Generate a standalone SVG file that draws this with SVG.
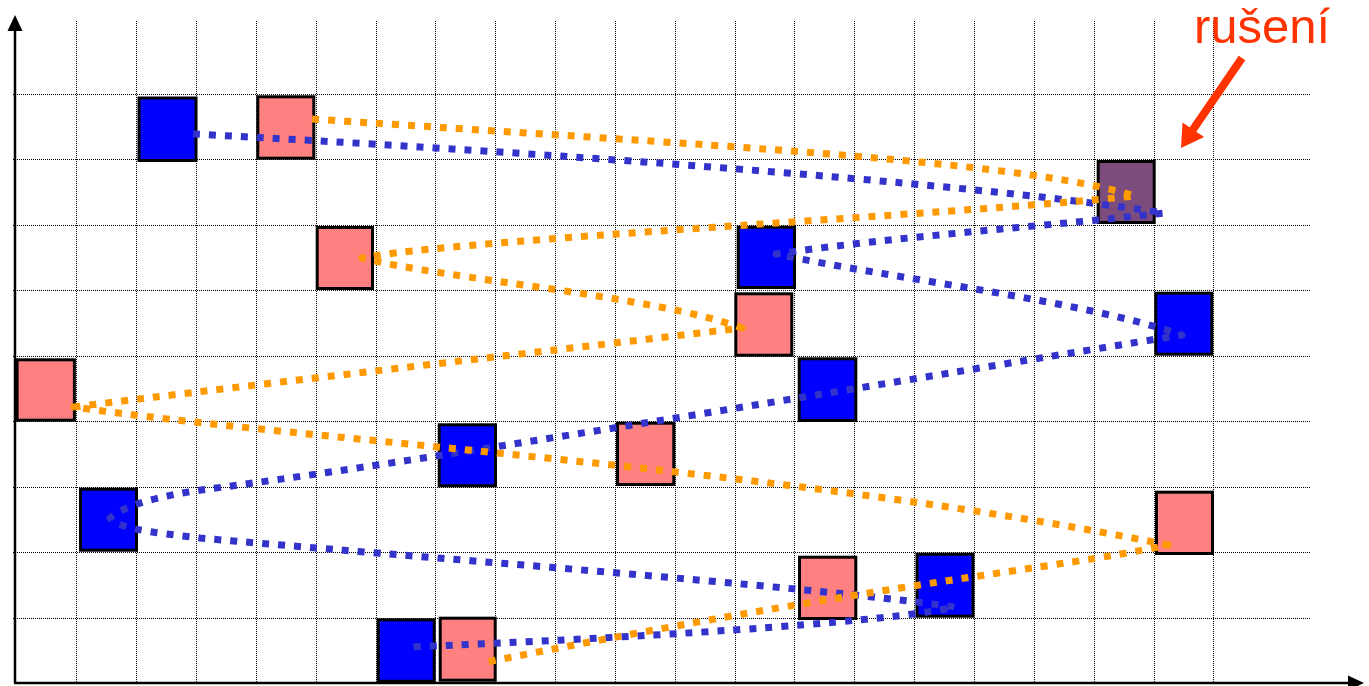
<svg xmlns="http://www.w3.org/2000/svg" width="1369" height="686" viewBox="0 0 1369 686">
<style>
.grid{stroke:#000;stroke-width:1;stroke-dasharray:1 1;fill:none}
.box{stroke:#000;stroke-width:3}
.blue{fill:#0000FF}
.pink{fill:#FF8080}
.purple{fill:#7C4C7C}
.conn{fill:none;stroke-width:7;stroke-dasharray:7 9;stroke-linejoin:round;stroke-linecap:butt}
.cb{stroke:#3333CC}
.co{stroke:#FF9900}
.axis{stroke:#000;stroke-width:2.5;fill:none}
.lbl{font-family:"Liberation Sans",Arial,sans-serif;font-size:49px;fill:#FF3300}
</style>
<rect width="1369" height="686" fill="#fff"/>
<g id="grid">
<path class="grid" d="M76.5,21V683M136.5,21V683M196.5,21V683M256.5,21V683M316.5,21V683M376.5,21V683M435.5,21V683M495.5,21V683M555.5,21V683M615.5,21V683M675.5,21V683M735.5,21V683M794.5,21V683M854.5,21V683M914.5,21V683M974.5,21V683M1034.5,21V683M1094.5,21V683M1154.5,21V683M1213.5,21V683"/>
<path class="grid" d="M13,94.5H1310M13,159.5H1310M13,225.5H1310M13,290.5H1310M13,356.5H1310M13,421.5H1310M13,487.5H1310M13,552.5H1310M13,618.5H1310"/>
</g>
<g id="node-b1"><rect class="box blue" x="139" y="98" width="57" height="62.5"/></g>
<g id="node-p2"><rect class="box pink" x="257.8" y="96.8" width="56" height="61.4"/></g>
<g id="node-x3"><rect class="box purple" x="1098.2" y="161.5" width="56" height="61"/></g>
<g id="node-p4"><rect class="box pink" x="317.2" y="227.5" width="55.3" height="61"/></g>
<g id="node-b5"><rect class="box blue" x="738.2" y="227.2" width="56.3" height="60.3"/></g>
<g id="node-p6"><rect class="box pink" x="735.8" y="293.8" width="56" height="61.4"/></g>
<g id="node-b7"><rect class="box blue" x="1155.8" y="293.2" width="56" height="61"/></g>
<g id="node-p8"><rect class="box pink" x="17.1" y="359.8" width="57.3" height="60.4"/></g>
<g id="node-b9"><rect class="box blue" x="799.2" y="358.8" width="56.6" height="61.7"/></g>
<g id="node-b10"><rect class="box blue" x="439.2" y="424.8" width="56.3" height="61"/></g>
<g id="node-p11"><rect class="box pink" x="617.5" y="423.2" width="56.3" height="61.3"/></g>
<g id="node-b12"><rect class="box blue" x="80.5" y="489.2" width="56" height="61"/></g>
<g id="node-p13"><rect class="box pink" x="1156.5" y="492.2" width="56" height="61.3"/></g>
<g id="node-p14"><rect class="box pink" x="799.5" y="557.2" width="56.3" height="61.3"/></g>
<g id="node-b15"><rect class="box blue" x="917" y="554.2" width="56" height="62"/></g>
<g id="node-b16"><rect class="box blue" x="378.2" y="619.8" width="56" height="61.5"/></g>
<g id="node-p17"><rect class="box pink" x="440.2" y="618.2" width="55" height="62"/></g>
<g id="connectors">
<path class="conn cb" d="M193,134 C500,150 950,180 1164,213 C1050,226 900,236 776,254 C900,280 1080,300 1182,335 C950,372 450,458 201,490 C160,496 125,505 110,518 C120,528 140,531 200,538 C400,556 800,585 955,607 C900,620 700,635 410,647"/>
<path class="conn co" d="M312,119 C700,145 1020,160 1135,196 C950,215 450,240 362,258 C450,280 650,295 742,328 C600,345 250,385 74,407 C300,440 800,470 1168,545 C1050,570 900,580 487,662"/>
</g>
<g id="axes">
<path class="axis" d="M15,683V30M14,683H1349"/>
<polygon points="15,15 7.5,31 22.5,31" fill="#000"/>
<polygon points="1364,683 1348,675.5 1348,690.5" fill="#000"/>
</g>
<g id="annotation">
<text class="lbl" x="1194" y="43">rušení</text>
<line x1="1242" y1="58" x2="1192" y2="131" stroke="#FF3300" stroke-width="8"/>
<polygon points="1181,148 1204.1,137.1 1182.5,122.5" fill="#FF3300"/>
</g>
</svg>
